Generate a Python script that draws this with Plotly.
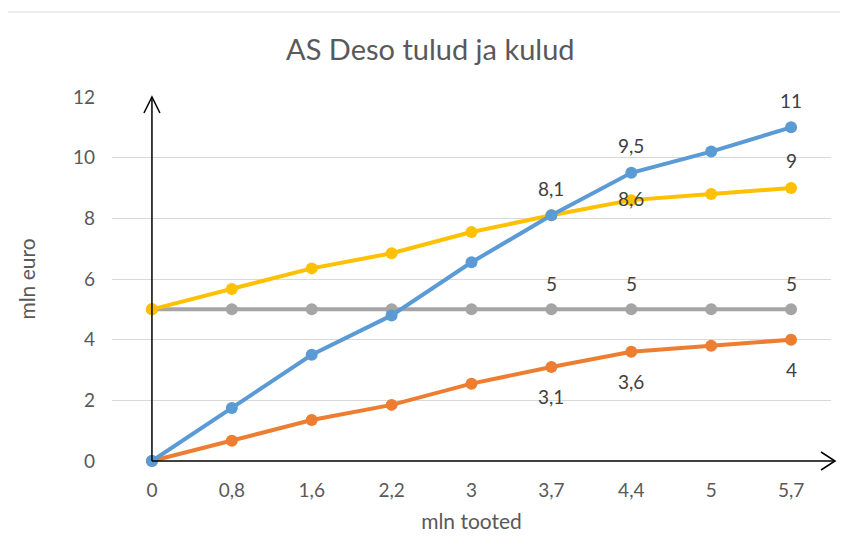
import plotly.graph_objects as go

categories = ["0", "0,8", "1,6", "2,2", "3", "3,7", "4,4", "5", "5,7"]
tulud = [0, 1.75, 3.5, 4.8, 6.55, 8.1, 9.5, 10.2, 11]           # blue
muutuvkulud = [0, 0.67, 1.35, 1.85, 2.55, 3.1, 3.6, 3.8, 4]     # orange
pusikulud = [5, 5, 5, 5, 5, 5, 5, 5, 5]                          # gray
kogukulud = [5, 5.67, 6.35, 6.85, 7.55, 8.1, 8.6, 8.8, 9]       # yellow

# indices that carry data labels, and where they sit
labels_blue = [5, 6, 8]
labels_orange = [5, 6, 8]
labels_gray = [5, 6, 8]
labels_yellow_center = [6]
labels_yellow_top = [8]

title_text = "AS Deso tulud ja kulud"
y_title = "mln euro"
x_title = "mln tooted"
y_ticks = [0, 2, 4, 6, 8, 10, 12]

FONT = "Lato, 'Open Sans', sans-serif"
TXT = "#595959"
LBL = "#404040"
TICK_SIZE = 19

def fmt(v):
    s = ("%g" % v)
    return s.replace(".", ",")

series = [
    ("Püsikulud", pusikulud, "#A5A5A5"),
    ("Muutuvkulud", muutuvkulud, "#ED7D31"),
    ("Kogukulud", kogukulud, "#FFC000"),
    ("Tulud", tulud, "#5B9BD5"),
]

fig = go.Figure()
for name, vals, col in series:
    fig.add_trace(go.Scatter(
        x=categories, y=vals, name=name, mode="lines+markers",
        line=dict(color=col, width=4),
        marker=dict(color=col, size=12),
        cliponaxis=False, showlegend=False,
    ))

annotations = []
def add_labels(vals, idxs, shift):
    for i in idxs:
        annotations.append(dict(
            x=categories[i], y=vals[i], text=fmt(vals[i]), showarrow=False,
            yshift=shift, font=dict(family=FONT, size=TICK_SIZE, color=LBL),
        ))

add_labels(tulud, labels_blue, 27)
add_labels(kogukulud, labels_yellow_top, 28)
add_labels(kogukulud, labels_yellow_center, 2)
add_labels(pusikulud, labels_gray, 26)
add_labels(muutuvkulud, labels_orange, -30)

ymax = y_ticks[-1]
x_first = 0.5 / len(categories)   # paper position of the first category
shapes = [
    # chart border
    dict(type="rect", xref="paper", yref="paper", x0=-0.149, x1=1.05, y0=-0.4, y1=1.2335,
         line=dict(color="#d9d9d9", width=1), layer="below"),
    # vertical axis arrow
    dict(type="line", xref="paper", yref="paper", x0=x_first, x1=x_first, y0=0, y1=1,
         line=dict(color="black", width=1.5)),
    dict(type="path", xref="paper", yref="paper", xsizemode="pixel", ysizemode="pixel",
         xanchor=x_first, yanchor=1, path="M -8,-16 L 0,0 L 8,-16",
         line=dict(color="black", width=1.5)),
    # horizontal axis arrow
    dict(type="line", xref="paper", yref="paper", x0=x_first, x1=1.0056, y0=0, y1=0,
         line=dict(color="black", width=1.5)),
    dict(type="path", xref="paper", yref="paper", xsizemode="pixel", ysizemode="pixel",
         xanchor=1.0056, yanchor=0, path="M -14,9 L 0,0 L -14,-9",
         line=dict(color="black", width=1.5)),
]

fig.update_layout(
    width=848, height=556,
    margin=dict(l=104, r=25, t=89, b=103),
    paper_bgcolor="white", plot_bgcolor="white",
    title=dict(text=title_text, x=0.498, xanchor="center", y=0.925, yanchor="middle",
               font=dict(family=FONT, size=29, color=TXT)),
    font=dict(family=FONT, color=TXT, size=TICK_SIZE),
    xaxis=dict(type="category", range=[-0.5, 8.5], showgrid=False, zeroline=False,
               showline=False, ticks="", ticklabelstandoff=16, automargin=False,
               tickfont=dict(family=FONT, size=TICK_SIZE, color=TXT),
               title=dict(text=x_title, standoff=14, font=dict(family=FONT, size=21, color=TXT))),
    yaxis=dict(range=[0, ymax], tickvals=y_ticks, showgrid=True, gridcolor="#d9d9d9",
               gridwidth=1, zeroline=False, showline=False, ticks="",
               ticklabelstandoff=16, automargin=False,
               tickfont=dict(family=FONT, size=TICK_SIZE, color=TXT),
               title=dict(text=y_title, standoff=31, font=dict(family=FONT, size=21, color=TXT))),
    shapes=shapes,
    annotations=annotations,
)

fig.write_html("out.html")
